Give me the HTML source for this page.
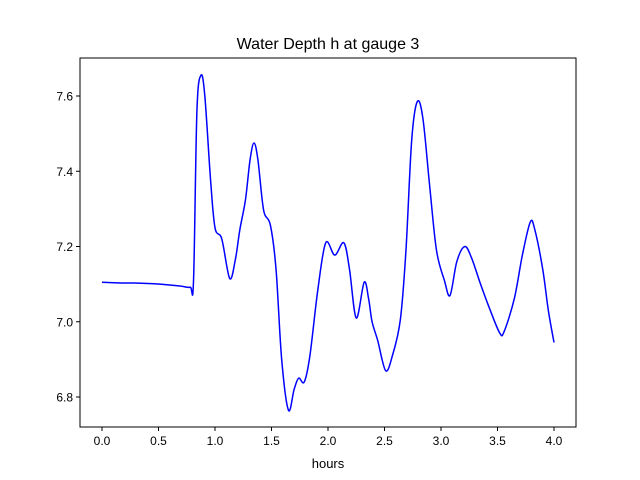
<!DOCTYPE html>
<html><head><meta charset="utf-8"><style>
body{margin:0;background:#fff;}
svg{display:block;font-family:"Liberation Sans","DejaVu Sans",sans-serif;}
</style></head><body>
<svg id="chart" width="640" height="480">
<rect x="0" y="0" width="640" height="480" fill="#fff"/>
<text x="328" y="49" text-anchor="middle" font-size="16">Water Depth h at gauge 3</text>
<g id="plot"></g>
<text x="328" y="468" text-anchor="middle" font-size="13">hours</text>
</svg>
<script>
const hours=[0,0.16,0.29,0.51,0.69,0.78,0.81,0.84,0.876,0.91,0.96,1.0,1.06,1.13,1.18,1.22,1.27,1.31,1.345,1.38,1.43,1.49,1.54,1.59,1.65,1.70,1.74,1.79,1.84,1.91,1.98,2.06,2.14,2.19,2.25,2.32,2.36,2.39,2.44,2.51,2.57,2.64,2.69,2.74,2.79,2.84,2.90,2.96,3.03,3.08,3.14,3.21,3.27,3.35,3.43,3.52,3.56,3.65,3.72,3.79,3.83,3.90,3.95,4.0];
const depth=[7.105,7.103,7.103,7.10,7.095,7.092,7.11,7.56,7.655,7.60,7.38,7.25,7.22,7.115,7.165,7.245,7.325,7.43,7.475,7.43,7.297,7.257,7.14,6.90,6.765,6.82,6.85,6.84,6.91,7.085,7.21,7.177,7.21,7.14,7.01,7.105,7.06,7.0,6.95,6.87,6.91,7.005,7.19,7.48,7.585,7.54,7.36,7.19,7.11,7.07,7.16,7.20,7.17,7.10,7.035,6.97,6.975,7.063,7.177,7.265,7.245,7.14,7.03,6.945];
const xTicks=[0,0.5,1.0,1.5,2.0,2.5,3.0,3.5,4.0];
const xTickLabels=["0.0","0.5","1.0","1.5","2.0","2.5","3.0","3.5","4.0"];
const yTicks=[6.8,7.0,7.2,7.4,7.6];
const yTickLabels=["6.8","7.0","7.2","7.4","7.6"];
const L=80,R=576,T=58,B=427;
const xs=v=>102+v*113;
const ys=v=>96+(7.6-v)*376.25;
const NS="http://www.w3.org/2000/svg";
const g=document.getElementById('plot');
function mk(t,a){const e=document.createElementNS(NS,t);for(const k in a)e.setAttribute(k,a[k]);g.appendChild(e);return e;}
// line (Catmull-Rom smoothing)
const P=hours.map((h,i)=>[xs(h),ys(depth[i])]);
let d="M"+P[0][0]+","+P[0][1];
for(let i=0;i<P.length-1;i++){const p0=P[Math.max(0,i-1)],p1=P[i],p2=P[i+1],p3=P[Math.min(P.length-1,i+2)];
d+=" C"+(p1[0]+(p2[0]-p0[0])/6)+","+(p1[1]+(p2[1]-p0[1])/6)+" "+(p2[0]-(p3[0]-p1[0])/6)+","+(p2[1]-(p3[1]-p1[1])/6)+" "+p2[0]+","+p2[1];}
const line=mk('path',{d:d,fill:'none',stroke:'#0000ff','stroke-width':1.5});


const frame=mk('rect',{x:L,y:T,width:R-L,height:B-T,fill:'none',stroke:'#000','stroke-width':1});


xTicks.forEach((v,i)=>{const x=xs(v);
const t=mk('line',{x1:x,x2:x,y1:B,y2:B+4,stroke:'#000'});


const l=mk('text',{x:x,y:B+18,'text-anchor':'middle','font-size':12});l.textContent=xTickLabels[i];

});
yTicks.forEach((v,i)=>{const y=ys(v);
const t=mk('line',{x1:L-4,x2:L,y1:y,y2:y,stroke:'#000'});


const l=mk('text',{x:L-7,y:y+4.5,'text-anchor':'end','font-size':12});l.textContent=yTickLabels[i];

});
</script>
</body></html>
